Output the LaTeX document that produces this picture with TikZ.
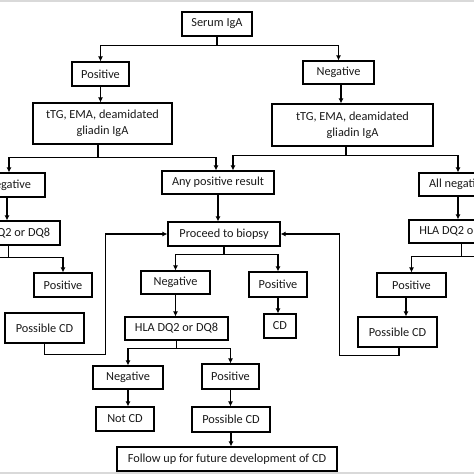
\documentclass[tikz,border=0pt]{standalone}
\usepackage{fontspec}
\setmainfont{Carlito}
\usetikzlibrary{arrows.meta,positioning}

\begin{document}
\begin{tikzpicture}[x=1pt, y=-1pt,
	basic/.style = {draw, rectangle, line width=1.2pt, inner sep=0pt, align=center, minimum height=24pt, text=black!90, font=\fontsize{12.3}{16}\selectfont},
	test/.style  = {basic, minimum height=41pt},
	link/.style  = {line width=1.1pt},
	>={Latex[length=5pt,width=5pt]}]

	% picture size and the cut at both edges
	\useasboundingbox (0,0) rectangle (474,474);
	\fill[gray!30] (0,0) rectangle (474,2);
	\fill[gray!30] (0,472) rectangle (474,474);
	\clip (0,0) rectangle (474,474);

	% first test and its two results
	\node[basic, minimum width=70pt] (serum) at (217,24) {Serum IgA};
	\node[basic, minimum width=57pt] (pos1) at (100.5,74) {Positive};
	\node[basic, minimum width=71pt, minimum height=23pt] (neg1) at (338.5,72.5) {Negative};
	\node[test, minimum width=139pt] (tTGl) at (102.5,123.5) {tTG, EMA, deamidated\\gliadin IgA};
	\node[test, minimum width=161pt, minimum height=42pt] (tTGr) at (352.5,125) {tTG, EMA, deamidated\\gliadin IgA};

	% left branch, cut at the edge
	\node[basic, minimum width=72pt] (negL) at (9,185) {Negative};
	\node[basic, minimum width=103pt] (hlaL) at (8.5,233) {HLA DQ2 or DQ8};
	\node[basic, minimum width=58pt] (posL) at (63,285) {Positive};
	\node[basic, minimum width=79pt, minimum height=30pt] (posCDL) at (44.5,328) {Possible CD};
	\coordinate (offL) at (-40,273);

	% middle branch
	\node[basic, minimum width=112pt, minimum height=23pt] (anypos) at (218,182.5) {Any positive result};
	\node[basic, minimum width=112pt] (biopsy) at (224,234) {Proceed to biopsy};
	\node[basic, minimum width=69pt, minimum height=23pt] (negM) at (175.5,282.5) {Negative};
	\node[basic, minimum width=58pt, minimum height=25pt] (posM) at (278,284.5) {Positive};
	\node[basic, minimum width=103pt, minimum height=23pt] (hlaM) at (176.5,328.5) {HLA DQ2 or DQ8};
	\node[basic, minimum width=32pt] (cdM) at (280,326) {CD};
	\node[basic, minimum width=70pt, minimum height=23pt] (negLow) at (128,377.5) {Negative};
	\node[basic, minimum width=57pt, minimum height=25pt] (posLow) at (230.5,376.5) {Positive};
	\node[basic, minimum width=58pt] (notCD) at (125,419) {Not CD};
	\node[basic, minimum width=78pt, minimum height=25pt] (posCDM) at (231,419.5) {Possible CD};
	\node[basic, minimum width=220pt] (follow) at (227,459) {Follow up for future development of CD};

	% right branch, cut at the edge
	\node[basic, minimum width=78pt, minimum height=23pt] (allneg) at (458,184.5) {All negative};
	\node[basic, minimum width=104pt, minimum height=23pt] (hlaR) at (461,231.5) {HLA DQ2 or DQ8};
	\node[basic, minimum width=69pt] (posR) at (411.5,285) {Positive};
	\node[basic, minimum width=79pt, minimum height=30pt] (posCDR) at (397.5,332) {Possible CD};
	\coordinate (offR) at (510,273);

	% splits: from each node down to a bar, then to its children
	\begin{scope}[link]
	\draw (serum.south) -- ++(0,9) coordinate (s1);
	\foreach \value in {pos1,neg1}
	\draw[->] (s1) -| (\value.north);

	\draw ([xshift=-4.5]tTGl.south) -- ++(0,13) coordinate (s2);
	\draw[->] (s2) -| (negL.north);
	\draw[->] (s2) -| ([xshift=-2]anypos.north);

	\draw ([xshift=-6.5]tTGr.south) -- ++(0,9) coordinate (s3);
	\draw[->] (s3) -| ([xshift=15]anypos.north);
	\draw[->] (s3) -| (allneg.north);

	\draw (biopsy.south) -- ++(0,8) coordinate (s4);
	\foreach \value in {negM,posM}
	\draw[->] (s4) -| (\value.north);

	\draw (hlaM.south) -- ++(0,8) coordinate (s5);
	\foreach \value in {negLow,posLow}
	\draw[->] (s5) -| (\value.north);

	\draw (hlaL.south) -- ++(0,12) coordinate (s6);
	\foreach \value in {posL,offL}
	\draw[->] (s6) -| (\value);

	\draw ([xshift=0.5]hlaR.south) -- ++(0,12.5) coordinate (s7);
	\foreach \value in {posR,offR}
	\draw[->] (s7) -| (\value);

	% straight arrows
	\draw[->] (pos1.south) -- (pos1.south |- tTGl.north);
	\draw[->] ([xshift=2.5]neg1.south) -- ([xshift=2.5]neg1.south |- tTGr.north);
	\draw[->] (anypos.south) -- (anypos.south |- biopsy.north);
	\draw[->] (negM.south) -- (negM.south |- hlaM.north);
	\draw[->] (posM.south) -- (posM.south |- cdM.north);
	\draw[->] (negLow.south) -- (negLow.south |- notCD.north);
	\draw[->] (posLow.south) -- (posLow.south |- posCDM.north);
	\draw[->] (posCDM.south) -- (posCDM.south |- follow.north);
	\draw[->] ([xshift=-2]negL.south) -- ([xshift=-2]negL.south |- hlaL.north);
	\draw[->] (allneg.south) -- (allneg.south |- hlaR.north);
	\draw[->] ([xshift=-5.5]posR.south) -- ([xshift=-5.5]posR.south |- posCDR.north);

	% back to biopsy from both sides
	\draw[->] (posCDL.south) -- ++(0,11) -| ([xshift=-62]biopsy.west) -- (biopsy.west);
	\draw[->] ([xshift=1.5]posCDR.south) -- ++(0,8) -| ([xshift=59]biopsy.east) -- (biopsy.east);
	\end{scope}

\end{tikzpicture}
\end{document}
